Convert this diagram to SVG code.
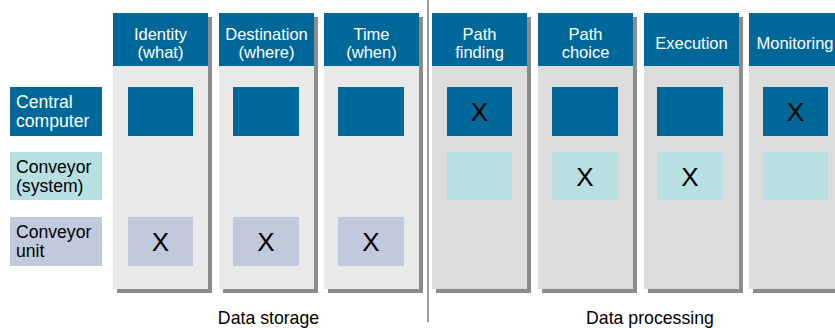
<svg xmlns="http://www.w3.org/2000/svg" width="835" height="328" viewBox="0 0 835 328">
<style>
text{font-family:"Liberation Sans",Arial,sans-serif}
.shadow{fill:#8c8c8c}
.bodyA{fill:#e9e9e9}
.bodyB{fill:#dcdcdc}
.head{fill:#006898}
.dark{fill:#006898}
.cyan{fill:#b8dfe2}
.lav{fill:#c1cadc}
.ht{fill:#ffffff;font-size:16.5px;text-anchor:middle}
.rl{font-size:17.6px}
.x{font-size:26px;text-anchor:middle;fill:#000}
.bl{font-size:17.7px;text-anchor:middle;fill:#000}
</style>
<rect width="835" height="328" fill="#ffffff"/>

<g id="row-labels">
<g id="row-central">
<rect x="10" y="87" width="92" height="49" class="dark"/>
<text class="rl" x="16" y="107.5" fill="#ffffff">Central</text>
<text class="rl" x="16" y="126.5" fill="#ffffff">computer</text>
</g>
<g id="row-conveyor-system">
<rect x="10" y="152" width="92" height="48" class="cyan"/>
<text class="rl" x="16" y="172.5" fill="#000">Conveyor</text>
<text class="rl" x="16" y="191.5" fill="#000">(system)</text>
</g>
<g id="row-conveyor-unit">
<rect x="10" y="217" width="92" height="49" class="lav"/>
<text class="rl" x="16" y="237.5" fill="#000">Conveyor</text>
<text class="rl" x="16" y="256.5" fill="#000">unit</text>
</g>
</g>

<g id="col-identity">
<rect x="117" y="17" width="95" height="276" class="shadow"/>
<rect x="113" y="13" width="95" height="276" class="bodyA"/>
<rect x="113" y="13" width="95" height="53" class="head"/>
<text class="ht" x="160.5" y="40">Identity</text>
<text class="ht" x="160.5" y="58">(what)</text>
<rect x="128" y="87" width="65" height="49" class="dark"/>
<rect x="128" y="217" width="65" height="49" class="lav"/>
<text class="x" x="160.5" y="251">X</text>
</g>

<g id="col-destination">
<rect x="223" y="17" width="95" height="276" class="shadow"/>
<rect x="219" y="13" width="95" height="276" class="bodyA"/>
<rect x="219" y="13" width="95" height="53" class="head"/>
<text class="ht" x="266.5" y="40">Destination</text>
<text class="ht" x="266.5" y="58">(where)</text>
<rect x="233" y="87" width="66" height="49" class="dark"/>
<rect x="233" y="217" width="66" height="49" class="lav"/>
<text class="x" x="266" y="251">X</text>
</g>

<g id="col-time">
<rect x="328" y="17" width="95" height="276" class="shadow"/>
<rect x="324" y="13" width="95" height="276" class="bodyA"/>
<rect x="324" y="13" width="95" height="53" class="head"/>
<text class="ht" x="371.5" y="40">Time</text>
<text class="ht" x="371.5" y="58">(when)</text>
<rect x="338" y="87" width="66" height="49" class="dark"/>
<rect x="338" y="217" width="66" height="49" class="lav"/>
<text class="x" x="371" y="251">X</text>
</g>

<g id="col-path-finding">
<rect x="436" y="17" width="95" height="276" class="shadow"/>
<rect x="432" y="13" width="95" height="276" class="bodyB"/>
<rect x="432" y="13" width="95" height="53" class="head"/>
<text class="ht" x="479.5" y="40">Path</text>
<text class="ht" x="479.5" y="57.5">finding</text>
<rect x="447" y="87" width="65" height="49" class="dark"/>
<text class="x" x="479.5" y="121">X</text>
<rect x="447" y="152" width="65" height="48" class="cyan"/>
</g>

<g id="col-path-choice">
<rect x="542" y="17" width="95" height="276" class="shadow"/>
<rect x="538" y="13" width="95" height="276" class="bodyB"/>
<rect x="538" y="13" width="95" height="53" class="head"/>
<text class="ht" x="585.5" y="40">Path</text>
<text class="ht" x="585.5" y="57.5">choice</text>
<rect x="552" y="87" width="66" height="49" class="dark"/>
<rect x="552" y="152" width="66" height="48" class="cyan"/>
<text class="x" x="585" y="185.5">X</text>
</g>

<g id="col-execution">
<rect x="648" y="17" width="95" height="276" class="shadow"/>
<rect x="644" y="13" width="95" height="276" class="bodyB"/>
<rect x="644" y="13" width="95" height="53" class="head"/>
<text class="ht" x="691.5" y="48.5">Execution</text>
<rect x="657" y="87" width="66" height="49" class="dark"/>
<rect x="657" y="152" width="66" height="48" class="cyan"/>
<text class="x" x="690" y="185.5">X</text>
</g>

<g id="col-monitoring">
<rect x="753" y="17" width="95" height="276" class="shadow"/>
<rect x="749" y="13" width="95" height="276" class="bodyB"/>
<rect x="749" y="13" width="95" height="53" class="head"/>
<text class="ht" x="795" y="48.5">Monitoring</text>
<rect x="763" y="87" width="65" height="49" class="dark"/>
<text class="x" x="795.5" y="121">X</text>
<rect x="763" y="152" width="65" height="48" class="cyan"/>
</g>

<g id="connectors">
<line x1="428" y1="0" x2="428" y2="322" stroke="#333333" stroke-width="1"/>
</g>

<g id="group-labels">
<text class="bl" x="268.5" y="323.5">Data storage</text>
<text class="bl" x="650" y="323.5">Data processing</text>
</g>
</svg>
